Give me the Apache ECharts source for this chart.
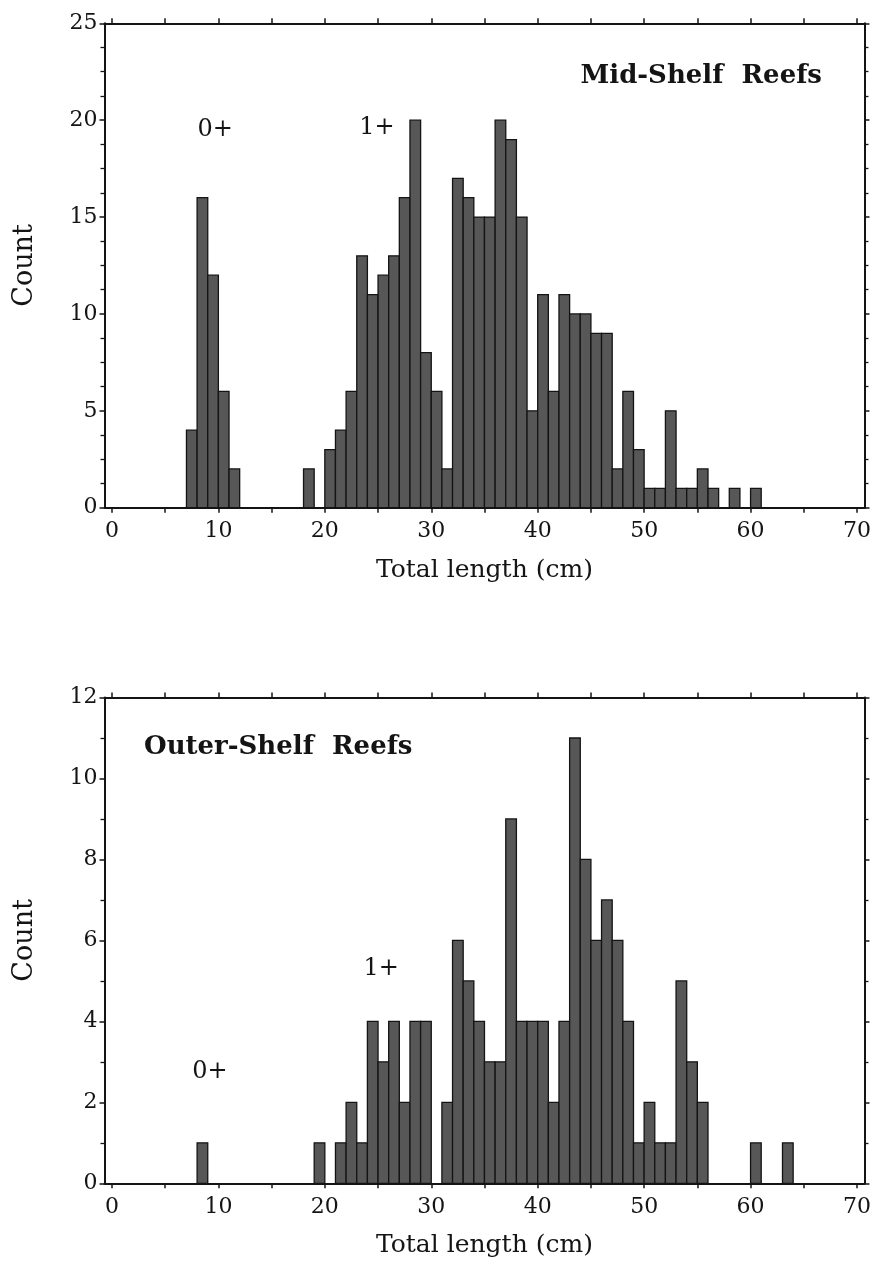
<!DOCTYPE html>
<html><head><meta charset="utf-8">
<script src="https://cdn.jsdelivr.net/npm/echarts@6/dist/echarts.min.js"></script>
<style>html,body{margin:0;padding:0;background:#fff}#c{width:874px;height:1263px}</style>
</head><body><div id="c"></div>
<script>
// ---- data ----
const BIN_WIDTH = 1;
const midBins   = [7,8,9,10,11,18,20,21,22,23,24,25,26,27,28,29,30,31,32,33,34,35,36,37,38,39,40,41,42,43,44,45,46,47,48,49,50,51,52,53,54,55,56,58,60];
const midCounts = [4,16,12,6,2,2,3,4,6,13,11,12,13,16,20,8,6,2,17,16,15,15,20,19,15,5,11,6,11,10,10,9,9,2,6,3,1,1,5,1,1,2,1,1,1];
const outerBins   = [8,19,21,22,23,24,25,26,27,28,29,31,32,33,34,35,36,37,38,39,40,41,42,43,44,45,46,47,48,49,50,51,52,53,54,55,60,63];
const outerCounts = [1,1,1,2,1,4,3,4,2,4,4,2,6,5,4,3,3,9,4,4,4,2,4,11,8,6,7,6,4,1,2,1,1,5,3,2,1,1];
const xLabelValues = [0,10,20,30,40,50,60,70];
const xTickValues  = [0,5,10,15,20,25,30,35,40,45,50,55,60,65,70];
const midAnnoText = ['0+','1+'];
const midAnnoX = [9.7, 24.9];
const midAnnoY = [19.5, 19.6];
const outerAnnoText = ['0+','1+'];
const outerAnnoX = [9.2, 25.3];
const outerAnnoY = [2.75, 5.3];
const titles = ['Mid-Shelf  Reefs','Outer-Shelf  Reefs'];
const xName = 'Total length (cm)';
const yName = 'Count';

// ---- chart ----
const FONT = 'DejaVu Serif';
const INK = '#141414';
const chart = echarts.init(document.getElementById('c'), null, {renderer:'canvas'});

function renderBar(params, api){
  const x0 = api.value(0), v = api.value(1);
  const p0 = api.coord([x0, v]);
  const p1 = api.coord([x0 + BIN_WIDTH, 0]);
  return {type:'rect', shape:{x:p0[0], y:p0[1], width:p1[0]-p0[0], height:p1[1]-p0[1]},
    style:{fill:'#575757', stroke:INK, lineWidth:1.3}};
}
function xAxisCfg(gridIndex, position, main){
  return {type:'value', gridIndex, position, min:-0.7, max:70.7,
    splitLine:{show:false},
    axisLine:{show:true, onZero:false, lineStyle:{color:INK, width:2}},
    axisTick:{show:true, inside:false, length:5, customValues:xTickValues, lineStyle:{color:INK, width:1.5}},
    axisLabel:{show:main, customValues:xLabelValues, margin:13, fontFamily:FONT, fontSize:22, color:INK},
    name: main ? xName : '', nameLocation:'middle', nameGap:50,
    nameTextStyle:{fontFamily:FONT, fontSize:25, color:INK}};
}
function yAxisCfg(gridIndex, position, main, max, interval, minorSplit){
  return {type:'value', gridIndex, position, min:0, max, interval,
    splitLine:{show:false},
    axisLine:{show:true, onZero:false, lineStyle:{color:INK, width:2}},
    axisTick:{show:true, inside:false, length:5, lineStyle:{color:INK, width:1.5}},
    minorTick:{show:true, splitNumber:minorSplit, length:4, lineStyle:{color:INK, width:1.3}},
    minorSplitLine:{show:false},
    axisLabel:{show:main, margin:7, fontFamily:FONT, fontSize:22, color:INK},
    name: main ? yName : '', nameLocation:'middle', nameRotate:90, nameGap:66,
    nameTextStyle:{fontFamily:FONT, fontSize:27, color:INK}};
}
function annoSeries(xi, yi, xs, ys, texts){
  return {type:'scatter', xAxisIndex:xi, yAxisIndex:yi, symbolSize:0, silent:true,
    itemStyle:{opacity:1},
    data: xs.map((x,i)=>[x, ys[i], texts[i]]),
    label:{show:true, position:'inside', formatter:p=>p.value[2], fontFamily:FONT, fontSize:24,
      color:INK, opacity:1, textBorderWidth:0}};
}

chart.setOption({
  animation:false,
  backgroundColor:'#fff',
  title:[
    {text:titles[0], right:47, top:58, textStyle:{fontFamily:FONT, fontWeight:'bold', fontSize:26, color:INK}},
    {text:titles[1], left:139, top:729, textStyle:{fontFamily:FONT, fontWeight:'bold', fontSize:26, color:INK}}
  ],
  grid:[
    {left:104.5, right:7, top:23.3, height:484.4},
    {left:104.5, right:7, top:697.5, height:485.8}
  ],
  xAxis:[
    xAxisCfg(0,'bottom',true), xAxisCfg(0,'top',false),
    xAxisCfg(1,'bottom',true), xAxisCfg(1,'top',false)
  ],
  yAxis:[
    yAxisCfg(0,'left',true,25,5,4), yAxisCfg(0,'right',false,25,5,4),
    yAxisCfg(1,'left',true,12,2,2), yAxisCfg(1,'right',false,12,2,2)
  ],
  series:[
    {type:'custom', xAxisIndex:0, yAxisIndex:0, renderItem:renderBar, encode:{x:0,y:1},
      data: midBins.map((b,i)=>[b, midCounts[i]])},
    {type:'custom', xAxisIndex:2, yAxisIndex:2, renderItem:renderBar, encode:{x:0,y:1},
      data: outerBins.map((b,i)=>[b, outerCounts[i]])},
    annoSeries(0,0,midAnnoX,midAnnoY,midAnnoText),
    annoSeries(2,2,outerAnnoX,outerAnnoY,outerAnnoText)
  ]
});
</script></body></html>
